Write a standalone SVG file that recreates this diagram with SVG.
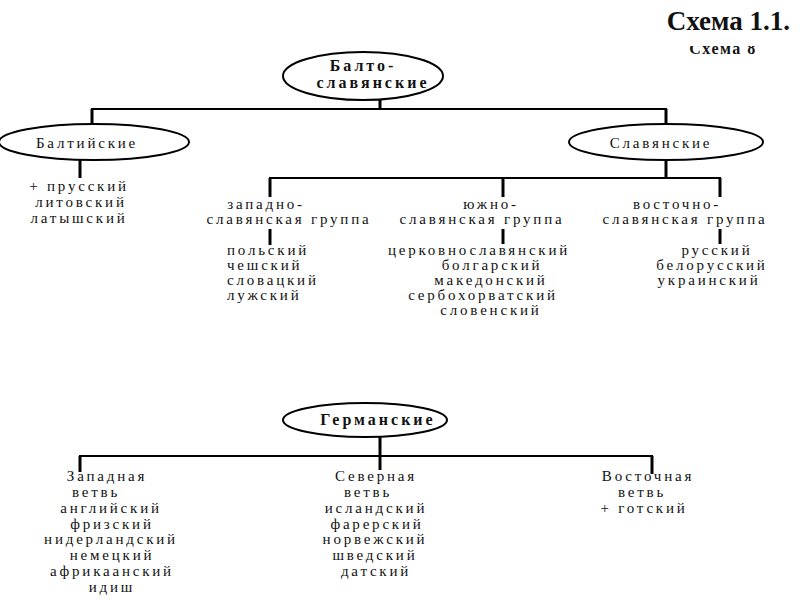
<svg xmlns="http://www.w3.org/2000/svg" width="800" height="600" viewBox="0 0 800 600">
<style>
text{font-family:"Liberation Serif","Times New Roman",serif;fill:#111;}
.t{font-size:15px;letter-spacing:2.8px;text-anchor:middle;}
.s{font-size:15px;letter-spacing:2.8px;text-anchor:start;}
.b{font-size:16px;font-weight:bold;letter-spacing:3px;text-anchor:middle;}
.node ellipse{fill:#fff;stroke:#000;stroke-width:2;}
.c line{stroke:#000;stroke-width:2;}
.c line.stem{stroke-width:3;}
</style>
<defs>
<clipPath id="clip8"><rect x="600" y="46" width="200" height="20"/></clipPath>
</defs>
<rect width="800" height="600" fill="#fff"/>
<text x="790" y="30" style="font-size:27px;font-weight:bold;text-anchor:end;">Схема 1.1.</text>
<text x="723" y="54" clip-path="url(#clip8)" style="font-size:16px;font-weight:bold;text-anchor:middle;letter-spacing:1.5px;">Схема 8</text>

<g class="c" id="connectors">
<line class="stem" x1="380" y1="98" x2="380" y2="109"/>
<line x1="91" y1="109" x2="667" y2="109"/>
<line class="stem" x1="92" y1="109" x2="92" y2="125"/>
<line class="stem" x1="666" y1="109" x2="666" y2="125"/>
<line class="stem" x1="80" y1="160" x2="80" y2="178"/>
<line class="stem" x1="666" y1="160" x2="666" y2="178"/>
<line x1="269" y1="178" x2="721" y2="178"/>
<line class="stem" x1="270" y1="178" x2="270" y2="197"/>
<line class="stem" x1="503" y1="178" x2="503" y2="197"/>
<line class="stem" x1="720" y1="178" x2="720" y2="197"/>
<line class="stem" x1="270" y1="229" x2="270" y2="245"/>
<line class="stem" x1="503" y1="229" x2="503" y2="244"/>
<line class="stem" x1="720" y1="229" x2="720" y2="244"/>
<line class="stem" x1="380" y1="437" x2="380" y2="456"/>
<line x1="79" y1="456" x2="653" y2="456"/>
<line class="stem" x1="80" y1="456" x2="80" y2="472"/>
<line class="stem" x1="380" y1="456" x2="380" y2="470"/>
<line class="stem" x1="652" y1="456" x2="652" y2="474"/>
</g>

<g class="node" id="balto-slavic">
<ellipse cx="363" cy="76" rx="80" ry="24"/>
<text class="b" x="363" y="71">Балто-</text>
<text class="b" x="373" y="88">славянские</text>
</g>

<g class="node" id="baltic">
<ellipse cx="94" cy="142" rx="95" ry="18"/>
<text class="t" x="87" y="148">Балтийские</text>
</g>
<g id="baltic-list">
<text class="t" x="79" y="191">+ прусский</text>
<text class="t" x="81" y="207">литовский</text>
<text class="t" x="79" y="223">латышский</text>
</g>

<g class="node" id="slavic">
<ellipse cx="666" cy="142" rx="97" ry="18"/>
<text class="t" x="661" y="148">Славянские</text>
</g>

<g id="west-slavic">
<text class="t" x="266" y="209">западно-</text>
<text class="t" x="289" y="224">славянская группа</text>
<text class="s" x="227" y="255">польский</text>
<text class="s" x="227" y="270">чешский</text>
<text class="s" x="227" y="285">словацкий</text>
<text class="s" x="227" y="300">лужский</text>
</g>

<g id="south-slavic">
<text class="t" x="491" y="209">южно-</text>
<text class="t" x="482" y="224">славянская группа</text>
<text class="t" x="479" y="255">церковнославянский</text>
<text class="t" x="492" y="270">болгарский</text>
<text class="t" x="491" y="285">македонский</text>
<text class="t" x="483" y="300">сербохорватский</text>
<text class="t" x="491" y="315">словенский</text>
</g>

<g id="east-slavic">
<text class="t" x="677" y="209">восточно-</text>
<text class="t" x="685" y="224">славянская группа</text>
<text class="t" x="717" y="255">русский</text>
<text class="t" x="712" y="270">белорусский</text>
<text class="t" x="709" y="285">украинский</text>
</g>

<g class="node" id="germanic">
<ellipse cx="365" cy="420" rx="82" ry="17"/>
<text class="b" x="378" y="425">Германские</text>
</g>

<g id="west-germanic">
<text class="t" x="107" y="481">Западная</text>
<text class="t" x="96" y="497">ветвь</text>
<text class="t" x="111" y="513">английский</text>
<text class="t" x="112" y="529">фризский</text>
<text class="t" x="111" y="544">нидерландский</text>
<text class="t" x="112" y="560">немецкий</text>
<text class="t" x="112" y="576">африкаанский</text>
<text class="t" x="112" y="592">идиш</text>
</g>

<g id="north-germanic">
<text class="t" x="376" y="481">Северная</text>
<text class="t" x="368" y="497">ветвь</text>
<text class="t" x="376" y="513">исландский</text>
<text class="t" x="377" y="529">фарерский</text>
<text class="t" x="375" y="544">норвежский</text>
<text class="t" x="375" y="560">шведский</text>
<text class="t" x="376" y="576">датский</text>
</g>

<g id="east-germanic">
<text class="t" x="648" y="481">Восточная</text>
<text class="t" x="642" y="497">ветвь</text>
<text class="t" x="644" y="513">+ готский</text>
</g>
</svg>
